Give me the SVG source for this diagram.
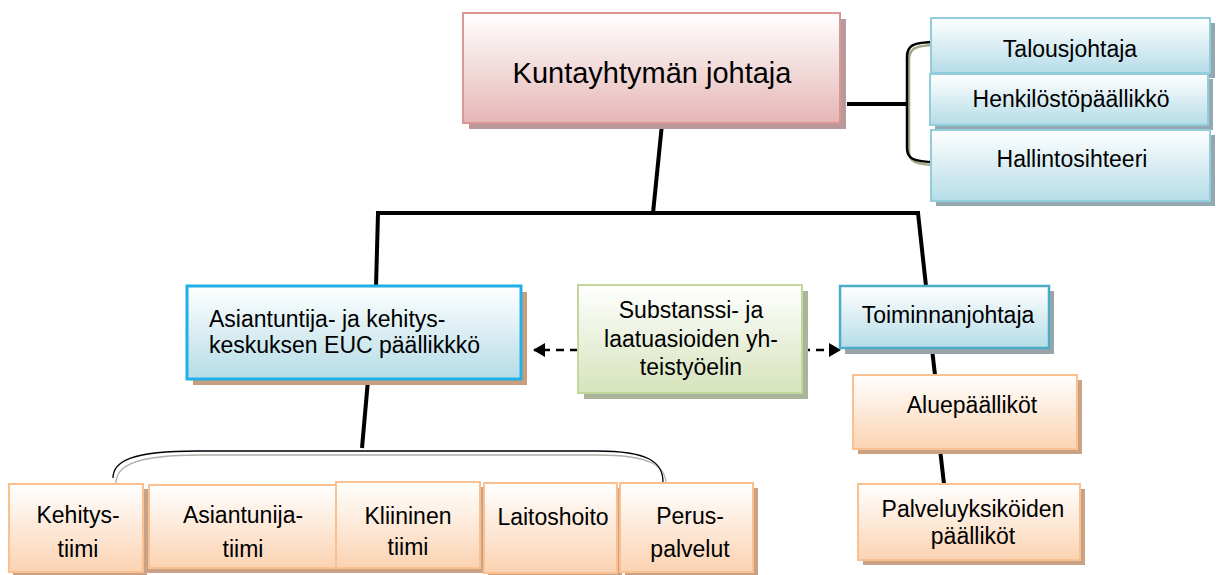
<svg xmlns="http://www.w3.org/2000/svg" width="1216" height="575" viewBox="0 0 1216 575">
<defs>
<linearGradient id="gPink" x1="0" y1="0" x2="0" y2="1"><stop offset="0" stop-color="#ffffff"/><stop offset="1" stop-color="#e5b7b6"/></linearGradient>
<linearGradient id="gBlue" x1="0" y1="0" x2="0" y2="1"><stop offset="0" stop-color="#ffffff"/><stop offset="1" stop-color="#b5dce7"/></linearGradient>
<linearGradient id="gGreen" x1="0" y1="0" x2="0" y2="1"><stop offset="0" stop-color="#ffffff"/><stop offset="1" stop-color="#d6e3bb"/></linearGradient>
<linearGradient id="gOrange" x1="0" y1="0" x2="0" y2="1"><stop offset="0" stop-color="#ffffff"/><stop offset="1" stop-color="#fbd3b2"/></linearGradient>
<marker id="arr" viewBox="0 0 12 14" refX="11" refY="7" markerWidth="12" markerHeight="14" markerUnits="userSpaceOnUse" orient="auto"><path d="M0,0 L12,7 L0,14 Z" fill="#000"/></marker>
<style>
text{font-family:"Liberation Sans",Arial,sans-serif;font-size:23px;fill:#000;text-anchor:middle}
.pink{fill:url(#gPink);stroke:#d99694;stroke-width:2}
.blue{fill:url(#gBlue);stroke:#92cddc;stroke-width:2}
.blue2{fill:url(#gBlue);stroke:#1fb0e8;stroke-width:3}
.blue3{fill:url(#gBlue);stroke:#4bacc6;stroke-width:2.5}
.green{fill:url(#gGreen);stroke:#c3d69b;stroke-width:2}
.orange{fill:url(#gOrange);stroke:#fac08f;stroke-width:2}
.sh-pink{fill:#b9999a}
.sh-blue{fill:#93a8b0}
.sh-tan{fill:#c89f7e}
.sh-green{fill:#a9b49a}
.sh-grey{fill:#9aa4a8}
.sh-orange{fill:#c9a184}
.conn{stroke:#000;stroke-width:4;fill:none;stroke-linecap:butt}
.dash{stroke:#000;stroke-width:2.5;fill:none;stroke-dasharray:8,6}
</style>
</defs>
<rect width="1216" height="575" fill="#ffffff"/>

<g id="connectors">
<path class="conn" d="M662,124 L653,213"/>
<path class="conn" d="M376,213 L920,213"/>
<path class="conn" d="M378,213 L376,287"/>
<path class="conn" d="M918,213 L926,286"/>
<path class="conn" d="M847,104 L907,104"/>
<path d="M938,45 C914,45 909,49 909,60 L909,151 C909,161 914,165 938,165" fill="none" stroke="#a6a683" stroke-width="2.5"/>
<path d="M936,42 C912,42 907,46 907,57 L907,148 C907,158 912,162 936,162" fill="none" stroke="#000" stroke-width="2.5"/>
<path class="conn" d="M368,380 L362,448"/>
<path d="M116,483 C116,466 135,455 200,455 L598,455 C650,455 666,466 666,484" fill="none" stroke="#b0b0a8" stroke-width="1.3"/>
<path d="M113,478 C113,461 132,451 197,451 L597,451 C648,451 663,462 663,482" fill="none" stroke="#000" stroke-width="1.3"/>
<path class="dash" d="M578,350 L534,350" marker-end="url(#arr)"/>
<path class="dash" d="M802,350 L840,350" marker-end="url(#arr)"/>
<path class="conn" d="M932,349 L935,375"/>
<path class="conn" d="M940,449 L944,484"/>
</g>

<g id="n-kuntayhtyma">
<rect class="sh-pink" x="469" y="19" width="377" height="110"/>
<rect class="pink" x="463" y="13" width="377" height="110"/>
<text x="652" y="83" style="font-size:29px">Kuntayhtymän johtaja</text>
</g>

<g id="n-talous">
<rect class="sh-blue" x="936" y="23" width="279" height="55"/>
<rect class="blue" x="931" y="18" width="279" height="55"/>
<text x="1070" y="57">Talousjohtaja</text>
</g>
<g id="n-henkilosto">
<rect class="sh-blue" x="935" y="79" width="278" height="51"/>
<rect class="blue" x="930" y="74" width="278" height="51"/>
<text x="1071" y="107">Henkilöstöpäällikkö</text>
</g>
<g id="n-hallinto">
<rect class="sh-blue" x="936" y="135" width="279" height="71"/>
<rect class="blue" x="931" y="130" width="279" height="71"/>
<text x="1072" y="167">Hallintosihteeri</text>
</g>

<g id="n-asiantuntija">
<rect class="sh-tan" x="193" y="292" width="334" height="93"/>
<rect class="blue2" x="187" y="286" width="334" height="93"/>
<text x="209" y="327" style="text-anchor:start">Asiantuntija- ja kehitys-</text>
<text x="209" y="353" style="text-anchor:start">keskuksen EUC päällikkkö</text>
</g>

<g id="n-substanssi">
<rect class="sh-green" x="584" y="291" width="224" height="108"/>
<rect class="green" x="578" y="285" width="224" height="108"/>
<text x="691" y="318">Substanssi- ja</text>
<text x="691" y="347">laatuasioiden yh-</text>
<text x="691" y="375">teistyöelin</text>
</g>

<g id="n-toiminnanjohtaja">
<rect class="sh-grey" x="845" y="291" width="209" height="63"/>
<rect class="blue3" x="840" y="286" width="209" height="62"/>
<text x="948" y="323">Toiminnanjohtaja</text>
</g>

<g id="n-aluepaallikot">
<rect class="sh-orange" x="858" y="380" width="224" height="74"/>
<rect class="orange" x="853" y="375" width="224" height="74"/>
<text x="972" y="413">Aluepäälliköt</text>
</g>

<g id="n-palveluyksikot">
<rect class="sh-orange" x="863" y="489" width="222" height="76"/>
<rect class="orange" x="858" y="484" width="222" height="76"/>
<text x="973" y="517">Palveluyksiköiden</text>
<text x="973" y="544">päälliköt</text>
</g>

<g id="n-kehitystiimi">
<rect class="sh-orange" x="13" y="489" width="134" height="86"/>
<rect class="orange" x="9" y="484" width="134" height="88"/>
<text x="78" y="523">Kehitys-</text>
<text x="78" y="557">tiimi</text>
</g>
<g id="n-asiantunijatiimi">
<rect class="sh-orange" x="146" y="489" width="192" height="84"/>
<rect class="orange" x="149" y="485" width="187" height="83"/>
<text x="243" y="523">Asiantunija-</text>
<text x="243" y="557">tiimi</text>
</g>
<g id="n-kliininen">
<rect class="sh-orange" x="338" y="487" width="146" height="86"/>
<rect class="orange" x="336" y="482" width="144" height="86"/>
<text x="408" y="524">Kliininen</text>
<text x="408" y="555">tiimi</text>
</g>
<g id="n-laitoshoito">
<rect class="sh-orange" x="488" y="488" width="134" height="87"/>
<rect class="orange" x="484" y="483" width="133" height="90"/>
<text x="553" y="525">Laitoshoito</text>
</g>
<g id="n-peruspalvelut">
<rect class="sh-orange" x="625" y="488" width="133" height="87"/>
<rect class="orange" x="620" y="483" width="133" height="89"/>
<text x="690" y="524">Perus-</text>
<text x="690" y="557">palvelut</text>
</g>
</svg>
